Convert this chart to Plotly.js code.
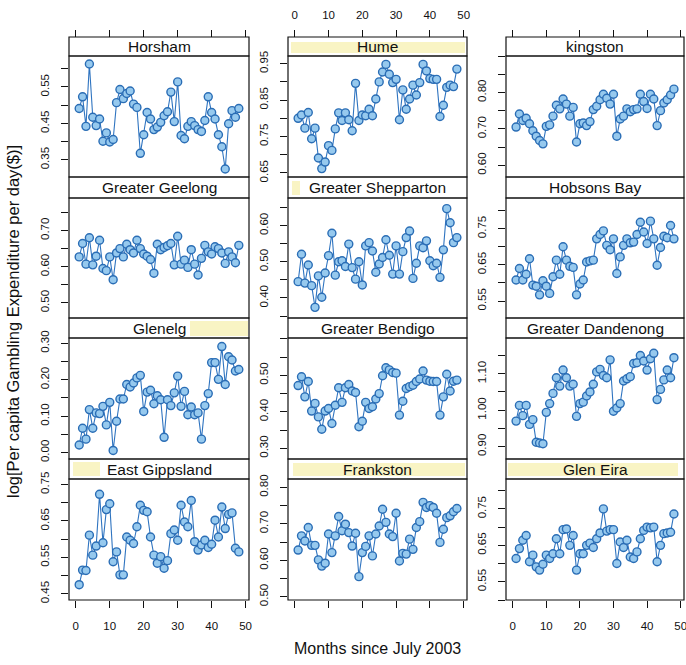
<!DOCTYPE html>
<html><head><meta charset="utf-8">
<script src="https://cdn.plot.ly/plotly-3.0.1.min.js"></script>
<style>html,body{margin:0;padding:0;background:#fff}#chart{width:686px;height:665px}</style>
</head><body><div id="chart"></div>
<script>
const months = [1,2,3,4,5,6,7,8,9,10,11,12,13,14,15,16,17,18,19,20,21,22,23,24,25,26,27,28,29,30,31,32,33,34,35,36,37,38,39,40,41,42,43,44,45,46,47,48];
const panelNames = ['Horsham','Hume','kingston','Greater Geelong','Greater Shepparton','Hobsons Bay','Glenelg','Greater Bendigo','Greater Dandenong','East Gippsland','Frankston','Glen Eira'];
const horsham = [0.491,0.523,0.442,0.613,0.467,0.444,0.462,0.401,0.424,0.399,0.406,0.507,0.543,0.518,0.532,0.539,0.503,0.494,0.368,0.419,0.480,0.462,0.433,0.440,0.453,0.471,0.482,0.536,0.455,0.564,0.417,0.408,0.442,0.455,0.444,0.433,0.428,0.458,0.523,0.480,0.462,0.419,0.386,0.325,0.449,0.485,0.467,0.491];
const hume = [0.800,0.809,0.773,0.816,0.744,0.773,0.691,0.662,0.680,0.725,0.712,0.771,0.815,0.794,0.815,0.796,0.766,0.896,0.794,0.809,0.807,0.825,0.807,0.853,0.900,0.927,0.948,0.921,0.898,0.907,0.796,0.878,0.825,0.853,0.891,0.864,0.898,0.948,0.930,0.909,0.907,0.907,0.805,0.836,0.885,0.891,0.887,0.935];
const kingston = [0.705,0.741,0.723,0.729,0.714,0.695,0.680,0.668,0.659,0.707,0.711,0.735,0.765,0.755,0.782,0.768,0.735,0.759,0.664,0.714,0.716,0.709,0.720,0.753,0.762,0.780,0.795,0.784,0.768,0.795,0.680,0.727,0.735,0.755,0.747,0.753,0.755,0.795,0.775,0.756,0.795,0.782,0.709,0.750,0.771,0.780,0.793,0.809];
const geelong = [0.627,0.664,0.607,0.680,0.605,0.629,0.673,0.595,0.589,0.627,0.564,0.638,0.650,0.627,0.662,0.647,0.638,0.673,0.650,0.635,0.629,0.620,0.582,0.662,0.647,0.653,0.658,0.664,0.605,0.684,0.607,0.618,0.598,0.647,0.607,0.577,0.623,0.659,0.641,0.635,0.655,0.650,0.638,0.609,0.641,0.627,0.611,0.659];
const shepparton = [0.445,0.521,0.441,0.491,0.434,0.374,0.461,0.402,0.469,0.517,0.579,0.463,0.500,0.503,0.487,0.549,0.484,0.452,0.500,0.436,0.544,0.553,0.530,0.471,0.494,0.512,0.561,0.518,0.466,0.544,0.466,0.528,0.567,0.585,0.454,0.496,0.544,0.539,0.558,0.503,0.489,0.496,0.457,0.533,0.647,0.608,0.553,0.567];
const hobsonsBay = [0.608,0.640,0.608,0.624,0.667,0.594,0.591,0.567,0.606,0.591,0.571,0.617,0.663,0.624,0.700,0.663,0.646,0.643,0.567,0.597,0.608,0.658,0.661,0.663,0.722,0.734,0.744,0.704,0.692,0.722,0.626,0.672,0.704,0.722,0.711,0.713,0.734,0.768,0.741,0.709,0.771,0.722,0.649,0.698,0.729,0.725,0.759,0.722];
const glenelg = [0.021,0.067,0.037,0.118,0.067,0.109,0.107,0.127,0.076,0.138,0.006,0.086,0.147,0.147,0.187,0.180,0.191,0.205,0.212,0.113,0.166,0.171,0.134,0.156,0.145,0.042,0.145,0.129,0.164,0.210,0.127,0.168,0.104,0.125,0.104,0.109,0.037,0.129,0.162,0.247,0.247,0.201,0.291,0.187,0.263,0.254,0.224,0.228];
const bendigo = [0.472,0.496,0.441,0.483,0.402,0.423,0.386,0.352,0.402,0.409,0.368,0.418,0.466,0.426,0.466,0.475,0.457,0.453,0.359,0.374,0.426,0.409,0.414,0.435,0.450,0.499,0.521,0.515,0.508,0.506,0.391,0.429,0.464,0.469,0.473,0.483,0.490,0.512,0.487,0.484,0.483,0.483,0.391,0.441,0.503,0.457,0.484,0.487];
const dandenong = [0.970,1.013,0.985,1.013,0.961,0.974,0.912,0.910,0.908,0.994,1.018,1.046,1.089,1.066,1.110,1.089,1.066,1.071,0.983,1.018,1.022,1.039,1.050,1.071,1.105,1.112,1.095,1.089,1.138,0.997,1.006,1.018,1.080,1.086,1.092,1.128,1.130,1.150,1.135,1.110,1.141,1.156,1.029,1.057,1.083,1.110,1.089,1.144];
const eastGippsland = [0.475,0.515,0.514,0.611,0.556,0.581,0.723,0.590,0.681,0.697,0.538,0.565,0.502,0.502,0.606,0.597,0.588,0.634,0.693,0.679,0.675,0.606,0.556,0.534,0.552,0.520,0.541,0.615,0.625,0.597,0.693,0.647,0.634,0.706,0.593,0.570,0.584,0.597,0.577,0.586,0.652,0.606,0.688,0.629,0.668,0.672,0.575,0.565];
const frankston = [0.628,0.667,0.653,0.690,0.641,0.641,0.601,0.584,0.592,0.672,0.621,0.667,0.720,0.681,0.699,0.676,0.639,0.674,0.555,0.621,0.638,0.667,0.612,0.672,0.694,0.740,0.704,0.672,0.665,0.729,0.598,0.619,0.617,0.658,0.630,0.690,0.706,0.759,0.745,0.750,0.745,0.729,0.649,0.685,0.717,0.722,0.733,0.742];
const glenEira = [0.614,0.641,0.664,0.677,0.605,0.623,0.591,0.582,0.598,0.623,0.614,0.627,0.668,0.627,0.693,0.695,0.650,0.677,0.582,0.627,0.627,0.650,0.656,0.644,0.668,0.684,0.750,0.689,0.693,0.693,0.600,0.659,0.644,0.664,0.618,0.614,0.632,0.668,0.691,0.700,0.698,0.700,0.605,0.650,0.682,0.684,0.686,0.736];
const panelSeries = [horsham, hume, kingston, geelong, shepparton, hobsonsBay, glenelg, bendigo, dandenong, eastGippsland, frankston, glenEira];
const yTickLabels = [
  ['0.35','0.45','0.55'], ['0.65','0.75','0.85','0.95'], ['0.60','0.70','0.80'],
  ['0.50','0.60','0.70'], ['0.40','0.50','0.60'], ['0.55','0.65','0.75'],
  ['0.00','0.10','0.20','0.30'], ['0.30','0.40','0.50'], ['0.90','1.00','1.10'],
  ['0.45','0.55','0.65','0.75'], ['0.50','0.60','0.70','0.80'], ['0.55','0.65','0.75']
];
const xTickLabels = ['0','10','20','30','40','50'];
const xTitle = 'Months since July 2003';
const yTitle = 'log[Per capita Gambling Expenditure per day($)]';

// ---- layout geometry (pixels) ----
const W = 686, H = 665;
const colPx = [[69,249],[288,467],[506,684]];
const rowPx = [[56,177],[198,318],[338,459],[479,600]];
const stripTop = [37,177,318,459];
const ySpan = 0.332;
const fx = p => p / W, fy = p => 1 - p / H;
const FONT = 'Liberation Sans, Arial, Helvetica, sans-serif';
const INK = '#111';

const traces = [];
const layout = {
  width: W, height: H, margin: {l:0, r:0, t:0, b:0},
  paper_bgcolor: '#fff', plot_bgcolor: '#fff', showlegend: false,
  font: {family: FONT, size: 11, color: INK},
  shapes: [], annotations: []
};

// highlight marks on some strips (from the scanned original)
const hl = [
  [291,465,42,53],[292,300,181,195],[190,248,321,336],[73,100,462,476],[293,465,463,476],[508,678,463,476]
];
hl.forEach(h => layout.shapes.push({type:'rect', xref:'paper', yref:'paper',
  x0: fx(h[0]), x1: fx(h[1]), y0: fy(h[3]), y1: fy(h[2]),
  fillcolor: 'rgba(246,238,165,0.65)', line: {width: 0}, layer: 'below'}));

panelSeries.forEach((ys, k) => {
  const r = Math.floor(k / 3), c = k % 3, n = k + 1;
  const [x0, x1] = colPx[c], [y0, y1] = rowPx[r];
  traces.push({
    type: 'scatter', mode: 'lines+markers', x: months, y: ys,
    xaxis: 'x' + n, yaxis: 'y' + n, name: panelNames[k],
    line: {color: '#2f74c0', width: 1.1},
    marker: {size: 8, color: '#96c9ee', line: {color: '#2a6db5', width: 1.4}},
    cliponaxis: false
  });
  const xa = {
    domain: [fx(x0), fx(x1)], range: [-2, 51],
    tickmode: 'array', tickvals: xTickLabels.map(Number), ticktext: xTickLabels,
    showgrid: false, zeroline: false, showline: false, automargin: false, fixedrange: true,
    ticklabeloverflow: 'allow',
    tickfont: {family: FONT, size: 11.5, color: INK}, tickcolor: INK, ticklen: 7, tickwidth: 1
  };
  if (r === 0) Object.assign(xa, {anchor: 'free', position: fy(stripTop[0]), side: 'top', ticks: 'outside', showticklabels: c === 1, ticklabelstandoff: 6});
  else if (r === 3) Object.assign(xa, {anchor: 'y' + n, side: 'bottom', ticks: 'outside', showticklabels: c !== 1, ticklabelstandoff: 8});
  else Object.assign(xa, {anchor: 'y' + n, ticks: '', showticklabels: false});
  layout['xaxis' + n] = xa;

  const lo = Math.min(...ys), hi = Math.max(...ys), mid = (lo + hi) / 2;
  layout['yaxis' + n] = {
    domain: [fy(y1), fy(y0)], anchor: 'x' + n, range: [mid - ySpan / 2, mid + ySpan / 2],
    tickmode: 'array', tickvals: yTickLabels[k].map(Number), ticktext: yTickLabels[k],
    tickangle: -90, ticks: 'outside', ticklen: 7, tickwidth: 1, tickcolor: INK,
    minor: {tickmode: 'linear', tick0: 0, dtick: 0.05, ticks: 'outside', ticklen: 7, tickwidth: 1, tickcolor: INK, showgrid: false},
    showgrid: false, zeroline: false, showline: false, automargin: false, fixedrange: true,
    ticklabeloverflow: 'allow',
    tickfont: {family: FONT, size: 11.5, color: INK}, ticklabelstandoff: 7
  };
  // panel frame
  layout.shapes.push({type:'rect', xref:'paper', yref:'paper', x0: fx(x0), x1: fx(x1), y0: fy(y1), y1: fy(y0),
    line: {color: INK, width: 1.2}, fillcolor: 'rgba(0,0,0,0)'});
  // strip frame
  layout.shapes.push({type:'rect', xref:'paper', yref:'paper', x0: fx(x0), x1: fx(x1), y0: fy(y0), y1: fy(stripTop[r]),
    line: {color: INK, width: 1.2}, fillcolor: 'rgba(0,0,0,0)'});
  layout.annotations.push({xref:'paper', yref:'paper', x: fx((x0 + x1) / 2), y: fy((y0 + stripTop[r]) / 2),
    text: panelNames[k], showarrow: false, xanchor: 'center', yanchor: 'middle',
    font: {family: FONT, size: 15.5, color: INK}});
});

layout.annotations.push({xref:'paper', yref:'paper', x: fx(378), y: fy(648), text: xTitle, showarrow: false,
  xanchor: 'center', yanchor: 'middle', font: {family: FONT, size: 16, color: INK}});
layout.annotations.push({xref:'paper', yref:'paper', x: fx(13), y: fy(322), text: yTitle, showarrow: false, textangle: -90,
  xanchor: 'center', yanchor: 'middle', font: {family: FONT, size: 16.5, color: INK}});

Plotly.newPlot('chart', traces, layout, {staticPlot: true, displayModeBar: false});
</script></body></html>
